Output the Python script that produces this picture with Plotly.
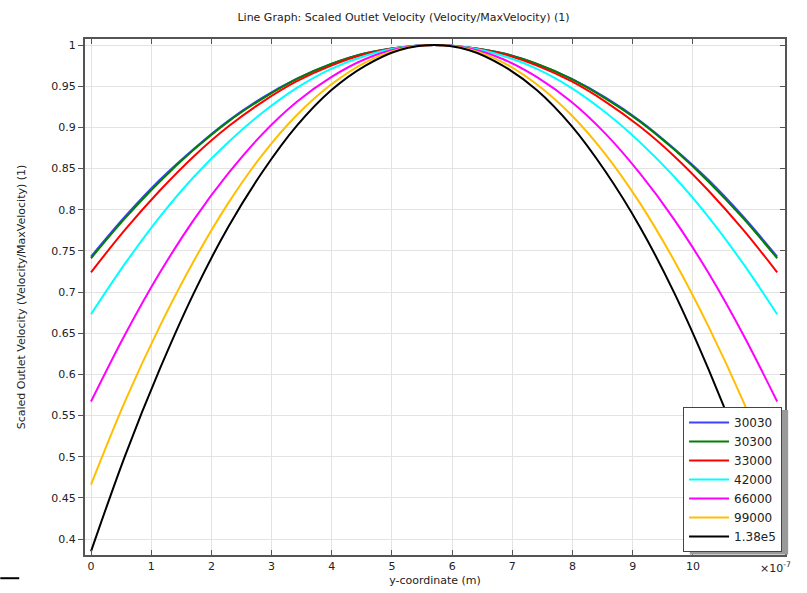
import plotly.graph_objects as go

# y-coordinate in units of 1e-7 m
y_coord = [0.0, 0.57, 1.14, 1.71, 2.28, 2.85, 3.42, 3.99, 4.56, 5.13, 5.70,
           6.27, 6.84, 7.41, 7.98, 8.55, 9.12, 9.69, 10.26, 10.83, 11.40]

v_30030 = [0.743, 0.792, 0.836, 0.874, 0.908, 0.936, 0.959, 0.977, 0.990, 0.997, 1.0,
           0.997, 0.990, 0.977, 0.959, 0.936, 0.908, 0.874, 0.836, 0.792, 0.743]
v_30300 = [0.741, 0.790, 0.834, 0.873, 0.907, 0.935, 0.959, 0.977, 0.990, 0.997, 1.0,
           0.997, 0.990, 0.977, 0.959, 0.935, 0.907, 0.873, 0.834, 0.790, 0.741]
v_33000 = [0.724, 0.776, 0.823, 0.865, 0.901, 0.931, 0.956, 0.975, 0.989, 0.997, 1.0,
           0.997, 0.989, 0.975, 0.956, 0.931, 0.901, 0.865, 0.823, 0.776, 0.724]
v_42000 = [0.673, 0.735, 0.791, 0.840, 0.882, 0.918, 0.948, 0.971, 0.987, 0.997, 1.0,
           0.997, 0.987, 0.971, 0.948, 0.918, 0.882, 0.840, 0.791, 0.735, 0.673]
v_66000 = [0.567, 0.649, 0.723, 0.788, 0.844, 0.892, 0.931, 0.961, 0.983, 0.996, 1.0,
           0.996, 0.983, 0.961, 0.931, 0.892, 0.844, 0.788, 0.723, 0.649, 0.567]
v_99000 = [0.466, 0.568, 0.658, 0.738, 0.808, 0.867, 0.915, 0.952, 0.979, 0.995, 1.0,
           0.995, 0.979, 0.952, 0.915, 0.867, 0.808, 0.738, 0.658, 0.568, 0.466]
v_138000 = [0.385, 0.502, 0.606, 0.699, 0.779, 0.846, 0.902, 0.945, 0.975, 0.994, 1.0,
            0.994, 0.975, 0.945, 0.902, 0.846, 0.779, 0.699, 0.606, 0.502, 0.385]

series_names = ["30030", "30300", "33000", "42000", "66000", "99000", "1.38e5"]
series_values = [v_30030, v_30300, v_33000, v_42000, v_66000, v_99000, v_138000]
colors = ["#4040ff", "#008000", "#ff0000", "#00ffff", "#ff00ff", "#ffbf00", "#000000"]

x_ticks = list(range(0, 11))
y_ticks = [0.4, 0.45, 0.5, 0.55, 0.6, 0.65, 0.7, 0.75, 0.8, 0.85, 0.9, 0.95, 1.0]
y_ticktext = ["0.4", "0.45", "0.5", "0.55", "0.6", "0.65", "0.7", "0.75", "0.8",
              "0.85", "0.9", "0.95", "1"]

FONT = "DejaVu Sans"
AX = "#555555"
GRID = "#e3e3e3"

fig = go.Figure()
for name, vals, col in zip(series_names, series_values, colors):
    fig.add_trace(go.Scatter(x=y_coord, y=vals, mode="lines", name=name,
                             line=dict(color=col, width=2, shape="spline", smoothing=1.0)))

xr = [-0.1, 11.53]
yr = [0.3806, 1.0073]

fig.update_layout(
    width=807, height=593,
    margin=dict(l=85, r=22, t=39, b=38),
    paper_bgcolor="white", plot_bgcolor="white",
    font=dict(family=FONT, size=11, color="#222222"),
    title=dict(text="Line Graph: Scaled Outlet Velocity (Velocity/MaxVelocity) (1)",
               x=0.5, xanchor="center", y=0.971, yanchor="middle",
               font=dict(family=FONT, size=11, color="#222222")),
    xaxis=dict(range=xr, tickvals=x_ticks, ticks="inside", ticklen=5, tickcolor=AX,
               showline=True, linecolor=AX, linewidth=2, mirror=True, automargin=False,
               showgrid=True, gridcolor=GRID, gridwidth=1, zeroline=False,
               title=dict(text="y-coordinate (m)", standoff=4,
                          font=dict(family=FONT, size=11))),
    yaxis=dict(range=yr, tickvals=y_ticks, ticktext=y_ticktext, ticks="outside",
               ticklen=5, tickcolor=AX, automargin=False,
               showline=True, linecolor=AX, linewidth=2, mirror=True,
               showgrid=True, gridcolor=GRID, gridwidth=1, zeroline=False,
               title=dict(text="Scaled Outlet Velocity (Velocity/MaxVelocity) (1)",
                          standoff=23, font=dict(family=FONT, size=11))),
    xaxis2=dict(range=xr, overlaying="x", side="top", tickvals=x_ticks, ticks="inside",
                ticklen=5, tickcolor=AX, showticklabels=False, showgrid=False,
                zeroline=False, anchor="y", automargin=False),
    yaxis2=dict(range=yr, overlaying="y", side="right", tickvals=y_ticks, ticks="inside",
                ticklen=5, tickcolor=AX, showticklabels=False, showgrid=False,
                zeroline=False, anchor="x", automargin=False),
    legend=dict(x=0.9958, y=0.287, xanchor="right", yanchor="top",
                bgcolor="white", bordercolor="#444444", borderwidth=1,
                font=dict(family=FONT, size=12, color="#222222"),
                tracegroupgap=0, itemwidth=40),
    showlegend=True,
)
# dummy invisible trace so the mirrored tick axes render
fig.add_trace(go.Scatter(x=[None], y=[None], xaxis="x2", yaxis="y2",
                         showlegend=False, hoverinfo="skip"))

# legend drop shadow
fig.add_shape(type="rect", xref="paper", yref="paper", x0=0.864, x1=1.0045,
              y0=0.001, y1=0.281, fillcolor="#9a9a9a", line=dict(width=0), layer="above")

fig.add_annotation(text="×10<sup>-7</sup>", xref="paper", yref="paper",
                   x=1.0, y=0, xanchor="right", yanchor="top", yshift=-3, xshift=8,
                   showarrow=False, font=dict(family=FONT, size=11, color="#222222"))
fig.add_shape(type="line", xref="paper", yref="paper", x0=-0.121, x1=-0.094,
              y0=-0.045, y1=-0.045, line=dict(color="black", width=2))

fig.write_html("out.html", config={"displayModeBar": False},
               post_script="document.body.style.margin='0';document.body.style.padding='0';")
